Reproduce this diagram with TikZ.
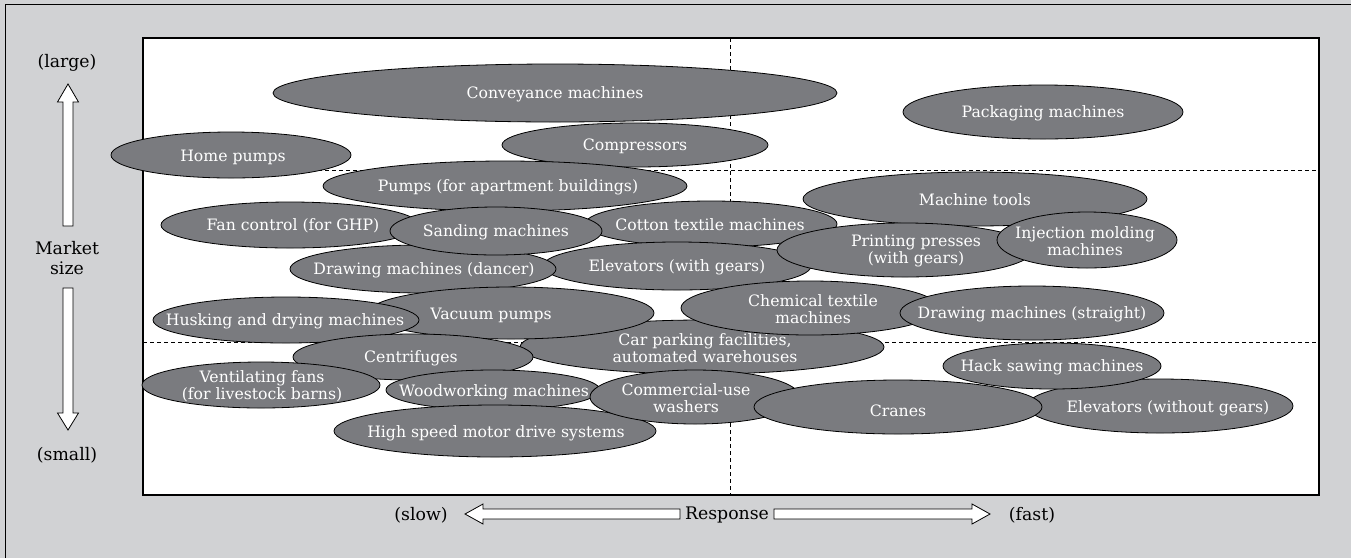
\documentclass[tikz,border=0pt]{standalone}
\usepackage{fontspec}
\setmainfont{DejaVu Serif}
\definecolor{bgcol}{RGB}{209,210,212}
\definecolor{ellcol}{RGB}{122,123,127}
\begin{document}
\begin{tikzpicture}[x=1pt,y=-1pt,
  ell/.style={fill=ellcol,draw=black,line width=0.8pt},
  lbl/.style={text=white,font=\fontsize{15.7}{16.8}\selectfont,align=center,inner sep=0pt},
  axlbl/.style={text=black,font=\fontsize{17.3}{20}\selectfont,align=center,inner sep=0pt},
  blockarrow/.style={fill=white,draw=black,line width=0.8pt,line join=miter},
  divider/.style={draw=black,line width=0.6pt,dash pattern=on 4pt off 3pt}]
\useasboundingbox (0,0) rectangle (1351,558);
\fill[bgcol] (0,0) rectangle (1351,558);
\draw[line width=0.8pt] (5,558) -- (5,4) -- (1351,4);
% plot area
\fill[white] (143,38) rectangle (1319,495);
\draw[divider] (730,38) -- (730,495);
\draw[divider] (143,170) -- (1319,170);
\draw[divider] (143,342) -- (1319,342);
\draw[line width=2pt] (143,38) rectangle (1319,495);
% ellipses (back to front)
\path[ell] (555,93) ellipse [x radius=282,y radius=29];
\node[lbl] (conv) at (555,94) {Conveyance machines};
\path[ell] (635,145) ellipse [x radius=133,y radius=22];
\node[lbl] (comp) at (635,146) {Compressors};
\path[ell] (1043,112) ellipse [x radius=140,y radius=27];
\node[lbl] (pack) at (1043,113) {Packaging machines};
\path[ell] (231,155) ellipse [x radius=120,y radius=23];
\node[lbl] (home) at (233,157) {Home pumps};
\path[ell] (505,186) ellipse [x radius=182,y radius=25];
\node[lbl] (apt) at (508,187) {Pumps (for apartment buildings)};
\path[ell] (975,199) ellipse [x radius=172,y radius=27];
\node[lbl] (tools) at (975,200) {Machine tools};
\path[ell] (711,224) ellipse [x radius=126,y radius=23];
\node[lbl] (cotton) at (710,225) {Cotton textile machines};
\path[ell] (290,225) ellipse [x radius=129,y radius=23];
\node[lbl] (fan) at (293,226) {Fan control (for GHP)};
\path[ell] (677,266) ellipse [x radius=134,y radius=24];
\node[lbl] (elevg) at (677,267) {Elevators (with gears)};
\path[ell] (423,269) ellipse [x radius=133,y radius=24];
\node[lbl] (dancer) at (424,270) {Drawing machines (dancer)};
\path[ell] (496,231) ellipse [x radius=106,y radius=24];
\node[lbl] (sand) at (496,232) {Sanding machines};
\path[ell] (905,250) ellipse [x radius=128,y radius=27];
\node[lbl] (print) at (916,251) {Printing presses\\(with gears)};
\path[ell] (1087,240) ellipse [x radius=90,y radius=28];
\node[lbl] (inject) at (1085,241) {Injection molding\\machines};
\path[ell] (702,347) ellipse [x radius=182,y radius=27];
\node[lbl] (park) at (705,348) {Car parking facilities,\\automated warehouses};
\path[ell] (810,308) ellipse [x radius=129,y radius=27];
\node[lbl] (chem) at (813,309) {Chemical textile\\machines};
\path[ell] (1032,313) ellipse [x radius=132,y radius=27];
\node[lbl] (straight) at (1032,314) {Drawing machines (straight)};
\path[ell] (511,313) ellipse [x radius=143,y radius=26];
\node[lbl] (vac) at (491,315) {Vacuum pumps};
\path[ell] (286,320) ellipse [x radius=133,y radius=23];
\node[lbl] (husk) at (285,321) {Husking and drying machines};
\path[ell] (413,357) ellipse [x radius=120,y radius=23];
\node[lbl] (cent) at (411,358) {Centrifuges};
\path[ell] (261,385) ellipse [x radius=119,y radius=23];
\node[lbl] (vent) at (262,386) {Ventilating fans\\(for livestock barns)};
\path[ell] (493,390) ellipse [x radius=107,y radius=20];
\node[lbl] (wood) at (494,392) {Woodworking machines};
\path[ell] (495,431) ellipse [x radius=161,y radius=26];
\node[lbl] (hsm) at (496,433) {High speed motor drive systems};
\path[ell] (695,397) ellipse [x radius=105,y radius=27];
\node[lbl] (wash) at (686,398) {Commercial-use\\washers};
\path[ell] (1160,406) ellipse [x radius=133,y radius=27];
\node[lbl] (elevn) at (1168,408) {Elevators (without gears)};
\path[ell] (898,407) ellipse [x radius=144,y radius=27];
\node[lbl] (crane) at (898,411) {Cranes};
\path[ell] (1052,366) ellipse [x radius=109,y radius=23];
\node[lbl] (hack) at (1052,367) {Hack sawing machines};
% axes
\path[blockarrow] (68,84) -- (78.5,102) -- (73,102) -- (73,226) -- (63,226) -- (63,102) -- (57.5,102) -- cycle;
\path[blockarrow] (63,288) -- (73,288) -- (73,413) -- (78.5,413) -- (68,430) -- (57.5,413) -- (63,413) -- cycle;
\path[blockarrow] (465,514) -- (483,504) -- (483,509) -- (680,509) -- (680,519) -- (483,519) -- (483,524) -- cycle;
\path[blockarrow] (774,509) -- (972,509) -- (972,504) -- (990,514) -- (972,524) -- (972,519) -- (774,519) -- cycle;
\node[axlbl] (large) at (67,63) {(large)};
\node[axlbl] (msize) at (67,258) {Market\\size};
\node[axlbl] (small) at (67,455) {(small)};
\node[axlbl] (slow) at (421,515) {(slow)};
\node[axlbl] (resp) at (727,515) {Response};
\node[axlbl] (fast) at (1032,515) {(fast)};
\end{tikzpicture}
\end{document}
